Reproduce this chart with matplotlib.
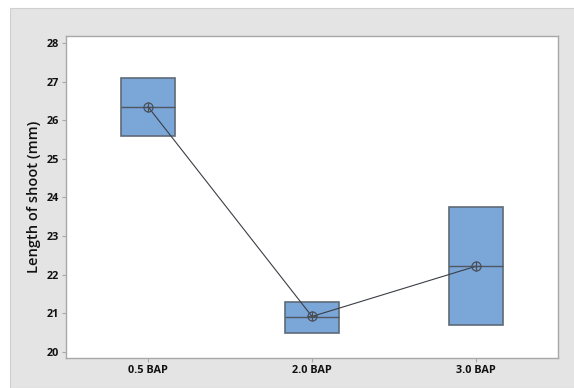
import matplotlib
matplotlib.use("Agg")
import matplotlib.pyplot as plt
from matplotlib.patches import Rectangle

# 各处理的箱线图统计量
groups = ["0.5 BAP", "2.0 BAP", "3.0 BAP"]
q1 = [25.6, 20.5, 20.7]
median = [26.35, 20.9, 22.22]
q3 = [27.1, 21.3, 23.75]
means = [26.35, 20.92, 22.22]
yticks = [20, 21, 22, 23, 24, 25, 26, 27, 28]

plt.rcParams["font.family"] = ["Open Sans", "DejaVu Sans"]

fig = plt.figure(figsize=(5.74, 3.88), dpi=100, facecolor="white")
# 灰色背景区域
fig.patches.append(Rectangle((10 / 574, 0), 1, 1 - 8 / 388, transform=fig.transFigure,
                             facecolor="#e4e4e4", edgecolor="#d0d0d0", linewidth=0.8, zorder=-10))
ax = fig.add_axes([66 / 574, 1 - 358 / 388, (558 - 66) / 574, (358 - 36) / 388])
ax.set_zorder(1)
ax.set_facecolor("white")

stats = []
for g, a, m, b, mu in zip(groups, q1, median, q3, means):
    stats.append({"label": g, "q1": a, "med": m, "q3": b, "whislo": a, "whishi": b,
                  "mean": mu, "fliers": []})

ax.bxp(stats, positions=[1, 2, 3], widths=0.335, patch_artist=True, showcaps=False,
       showfliers=False,
       boxprops=dict(facecolor="#7ba6d8", edgecolor="#5f6b78", linewidth=1.2),
       medianprops=dict(color="#4f5862", linewidth=1.0),
       whiskerprops=dict(linewidth=0))

# 均值连线与均值符号
ax.plot([1, 2, 3], means, color="#3a3f45", linewidth=0.8, zorder=4)
ax.plot([1, 2, 3], means, linestyle="none", marker="o", markersize=6.5,
        markerfacecolor="none", markeredgecolor="#4a5058", markeredgewidth=0.9, zorder=5)
ax.plot([1, 2, 3], means, linestyle="none", marker="+", markersize=6.5,
        markeredgecolor="#4a5058", markeredgewidth=0.9, zorder=5)

ax.set_xlim(0.5, 3.5)
ax.set_ylim(19.845, 28.18)
ax.set_yticks(yticks)
ax.set_yticklabels([str(v) for v in yticks])
ax.set_xticks([1, 2, 3])
ax.set_xticklabels(groups)
for sp in ax.spines.values():
    sp.set_color("#a8a8a8")
    sp.set_linewidth(1.0)
ax.tick_params(axis="both", direction="out", length=3, color="#a8a8a8", width=0.8,
               labelsize=7.8, labelcolor="#111111", pad=2)
for lab in ax.get_xticklabels() + ax.get_yticklabels():
    lab.set_fontweight("bold")

ax.set_ylabel("Length of shoot (mm)", fontsize=10.5, color="#111111", labelpad=4,
              fontweight="semibold")

fig.savefig("out.png", dpi=100, facecolor=fig.get_facecolor())
